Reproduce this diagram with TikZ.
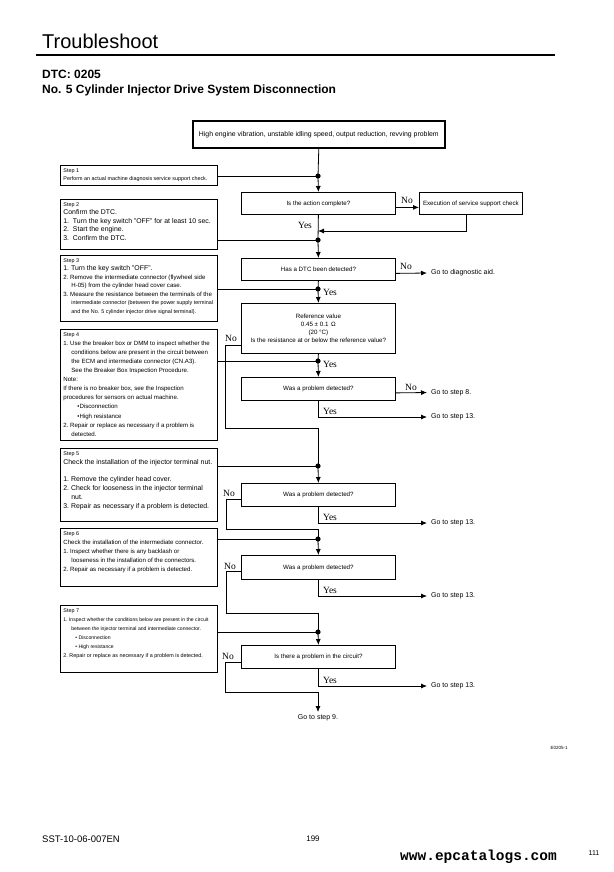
\documentclass[tikz,border=0pt]{standalone}
\usepackage{fontspec}
\setmainfont{Liberation Sans}
\newfontfamily\ynfont{Liberation Serif}
\newfontfamily\webfont{Liberation Mono}
\usetikzlibrary{arrows.meta}

% Schriftgroessen fuer die Kaesten
\newcommand\txtXS{\fontsize{5.1}{8.5}\selectfont}
\newcommand\txtS{\fontsize{5.4}{8.5}\selectfont}
\newcommand\txtM{\fontsize{6.1}{8.5}\selectfont}
\newcommand\txtL{\fontsize{6.9}{8.5}\selectfont}
\newcommand\stepind{\hspace*{8pt}}

\tikzset{
	stepbox/.style={draw, line width=0.8pt, anchor=north west, inner sep=3pt},
	askbox/.style={draw, line width=0.8pt, anchor=north west, minimum width=154pt, inner sep=1pt, align=center, font=\fontsize{6.2}{8}\selectfont},
	gotext/.style={anchor=west, inner sep=4pt, font=\fontsize{7}{8}\selectfont},
	yn/.style={inner sep=0pt, font=\ynfont\fontsize{9.5}{10}\selectfont},
	flow/.style={line width=0.8pt},
}

\begin{document}
\begin{tikzpicture}[x=1pt, y=-1pt, >={Latex[length=6pt,width=5pt]}]
	
	% Seite
	\useasboundingbox (0,0) rectangle (613,872);
	\fill[white] (0,0) rectangle (613,872);
	
	% Kopf der Seite
	\node[anchor=base west, inner sep=0pt, font=\fontsize{20}{24}\selectfont] (title) at (42,49) {Troubleshoot};
	\draw[line width=1.2pt] (36,55) -- (555,55);
	\node[anchor=base west, inner sep=0pt, font=\bfseries\fontsize{12}{14}\selectfont] (dtc) at (42,79) {DTC: 0205};
	\node[anchor=base west, inner sep=0pt, font=\bfseries\fontsize{12}{14}\selectfont] (name) at (42,94) {No. 5 Cylinder Injector Drive System Disconnection};
	
	% Symptom oben
	\node[draw, line width=1.6pt, anchor=north west, minimum width=252pt, minimum height=27pt, font=\fontsize{6.9}{8}\selectfont] (top) at (192,120) {High engine vibration, unstable idling speed, output reduction, revving problem};
	
	% Schritte links
	\node[stepbox] (s1) at (60,165) {\parbox[c][14pt][t]{151pt}{\txtS Step 1\\ Perform an actual machine diagnosis service support check.}};
	\node[stepbox] (s2) at (60,199) {\parbox[c][44pt][t]{151pt}{\txtS Step 2\\ \txtL Confirm the DTC.\\ 1.\ \ Turn the key switch "OFF" for at least 10 sec.\\ 2.\ \ Start the engine.\\ 3.\ \ Confirm the DTC.}};
	\node[stepbox] (s3) at (60,255) {\parbox[c][60pt][t]{151pt}{\txtS Step 3\\ \txtL 1.~Turn the key switch "OFF".\\ \txtM 2.~Remove the intermediate connector (flywheel side\\ \stepind H-05) from the cylinder head cover case.\\ 3.~Measure the resistance between the terminals of the\\ \txtS\stepind intermediate connector (between the power supply terminal\\ \stepind and the No. 5 cylinder injector drive signal terminal).}};
	\node[stepbox] (s4) at (60,329) {\parbox[c][105pt][t]{151pt}{\txtS Step 4\\ \txtM 1.~Use the breaker box or DMM to inspect whether the\\ \stepind conditions below are present in the circuit between\\ \stepind the ECM and intermediate connector (CN.A3).\\ \stepind See the Breaker Box Inspection Procedure.\\ Note:\\ If there is no breaker box, see the Inspection\\ procedures for sensors on actual machine.\\ \hspace*{14pt}\textbullet Disconnection\\ \hspace*{14pt}\textbullet High resistance\\ 2.~Repair or replace as necessary if a problem is\\ \stepind detected.\setlength{\baselineskip}{9.1pt}}};
	\node[stepbox] (s5) at (60,448) {\parbox[c][67pt][t]{151pt}{\txtS Step 5\\ \txtL Check the installation of the injector terminal nut.\\[8pt] 1.~Remove the cylinder head cover.\\ 2.~Check for looseness in the injector terminal\\ \stepind nut.\\ 3.~Repair as necessary if a problem is detected.\setlength{\baselineskip}{9pt}}};
	\node[stepbox] (s6) at (60,528) {\parbox[c][52pt][t]{151pt}{\txtS Step 6\\ \txtM Check the installation of the intermediate connector.\\ 1.~Inspect whether there is any backlash or\\ \stepind looseness in the installation of the connectors.\\ 2.~Repair as necessary if a problem is detected.\setlength{\baselineskip}{9pt}}};
	\node[stepbox] (s7) at (60,605) {\parbox[c][61pt][t]{151pt}{\txtS Step 7\\ \txtXS 1.~Inspect whether the conditions below are present in the circuit\\ \stepind between the injector terminal and intermediate connector.\\ \hspace*{12pt}\textbullet\ Disconnection\\ \hspace*{12pt}\textbullet\ High resistance\\ \txtS 2.~Repair or replace as necessary if a problem is detected.\setlength{\baselineskip}{9pt}}};
	
	% Abfragen in der Mitte
	\node[askbox, minimum height=22pt] (q1) at (241,192) {Is the action complete?};
	\node[draw, line width=0.8pt, anchor=north west, minimum width=103pt, minimum height=22pt, font=\fontsize{6.2}{8}\selectfont] (exec) at (419,192) {Execution of service support check};
	\node[askbox, minimum height=22pt] (q2) at (241,258) {Has a DTC been detected?};
	\node[askbox, minimum height=50pt] (q3) at (241,303) {Reference value\\ 0.45 ± 0.1 \,Ω\\ (20 °C)\\ Is the resistance at or below the reference value?};
	\node[askbox, minimum height=23pt] (q4) at (241,377) {Was a problem detected?};
	\node[askbox, minimum height=23pt] (q5) at (241,483) {Was a problem detected?};
	\node[askbox, minimum height=24pt] (q6) at (241,555) {Was a problem detected?};
	\node[askbox, minimum height=23pt] (q7) at (241,645) {Is there a problem in the circuit?};
	
	% Verweise rechts
	\node[gotext] (g1) at (427,273) {Go to diagnostic aid.};
	\node[gotext] (g2) at (427,392.5) {Go to step 8.};
	\node[gotext] (g3) at (427,417) {Go to step 13.};
	\node[gotext] (g4) at (427,523) {Go to step 13.};
	\node[gotext] (g5) at (427,596) {Go to step 13.};
	\node[gotext] (g6) at (427,686) {Go to step 13.};
	\node[gotext, anchor=north, inner sep=2pt] (g7) at (318,712) {Go to step 9.};
	
	% Knotenpunkte
	\coordinate (j1) at (318,176);
	\coordinate (r1) at (318,231);
	\coordinate (j2) at (318,240);
	\coordinate (j3) at (318,289);
	\coordinate (j4) at (318,361);
	\coordinate (b3) at (225,428);
	\coordinate (j5) at (318,466);
	\coordinate (b5) at (226,529);
	\coordinate (j6) at (318,539);
	\coordinate (b6) at (226,613);
	\coordinate (j7) at (318,632);
	\coordinate (b7) at (225,692);
	
	% Hauptlinie
	\draw[flow] (top.south) -- (j1);
	\draw[flow, ->] (j1) -- (q1.north);
	\draw[flow] (q1.south) -- (j2);
	\draw[flow, ->] (j2) -- (q2.north);
	\draw[flow] (q2.south) -- (j3);
	\draw[flow, ->] (j3) -- (q3.north);
	\draw[flow] (q3.south) -- (j4);
	\draw[flow, ->] (j4) -- (q4.north);
	\draw[flow, ->] (j5) -- (q5.north);
	\draw[flow, ->] (j6) -- (q6.north);
	\draw[flow, ->] (j7) -- (q7.north);
	
	% Schritte an die Hauptlinie
	\foreach \n in {1,...,7} {
		\draw[flow] (s\n.east |- j\n) -- (j\n);
		\fill (j\n) circle (2.6pt);
	}
	
	% Nein-Zweige
	\draw[flow, ->] ([yshift=-4pt]q1.east) -- ([yshift=-4pt]exec.west);
	\draw[flow, ->] ([xshift=-5pt]exec.south) |- (r1);
	\draw[flow, ->] ([yshift=-4pt]q2.east) -- (g1.west);
	\draw[flow] ([yshift=8pt]q3.south west) -| (b3) -| (j5);
	\draw[flow, ->] ([yshift=-4pt]q4.east) -- (g2.west);
	\draw[flow] ([yshift=7pt]q5.south west) -| (b5) -| (j6);
	\draw[flow] ([yshift=8pt]q6.south west) -| (b6) -| (j7);
	\draw[flow, ->] ([yshift=6pt]q7.south west) -| (b7) -| (g7.north);
	
	% Ja-Zweige
	\draw[flow, ->] (q4.south) |- (g3.west);
	\draw[flow, ->] (q5.south) |- (g4.west);
	\draw[flow, ->] (q6.south) |- (g5.west);
	\draw[flow, ->] (q7.south) |- (g6.west);
	
	% Beschriftung Ja / Nein
	\node[yn] (no1) at (407,200) {No};
	\node[yn] (yes1) at (305,225) {Yes};
	\node[yn] (no2) at (406,266) {No};
	\node[yn] (yes2) at (330,292) {Yes};
	\node[yn] (no3) at (231,338) {No};
	\node[yn] (yes3) at (330,364) {Yes};
	\node[yn] (no4) at (411,387) {No};
	\node[yn] (yes4) at (330,411) {Yes};
	\node[yn] (no5) at (229,493) {No};
	\node[yn] (yes5) at (330,517) {Yes};
	\node[yn] (no6) at (230,566) {No};
	\node[yn] (yes6) at (330,590) {Yes};
	\node[yn] (no7) at (228,656) {No};
	\node[yn] (yes7) at (330,680) {Yes};
	
	% Fuss der Seite
	\node[inner sep=0pt, font=\fontsize{4.5}{6}\selectfont] (fig) at (559,748) {E0205-1};
	\node[anchor=base west, inner sep=0pt, font=\fontsize{9.5}{11}\selectfont] (doc) at (42,842) {SST-10-06-007EN};
	\node[anchor=base, inner sep=0pt, font=\fontsize{8}{10}\selectfont] (page) at (313,841) {199};
	\node[anchor=base west, inner sep=0pt, font=\webfont\bfseries\fontsize{14.5}{16}\selectfont] (web) at (400,860) {www.epcatalogs.com};
	\node[anchor=base, inner sep=0pt, font=\fontsize{7}{9}\selectfont] (num) at (594,855) {111};
	
\end{tikzpicture}
\end{document}
